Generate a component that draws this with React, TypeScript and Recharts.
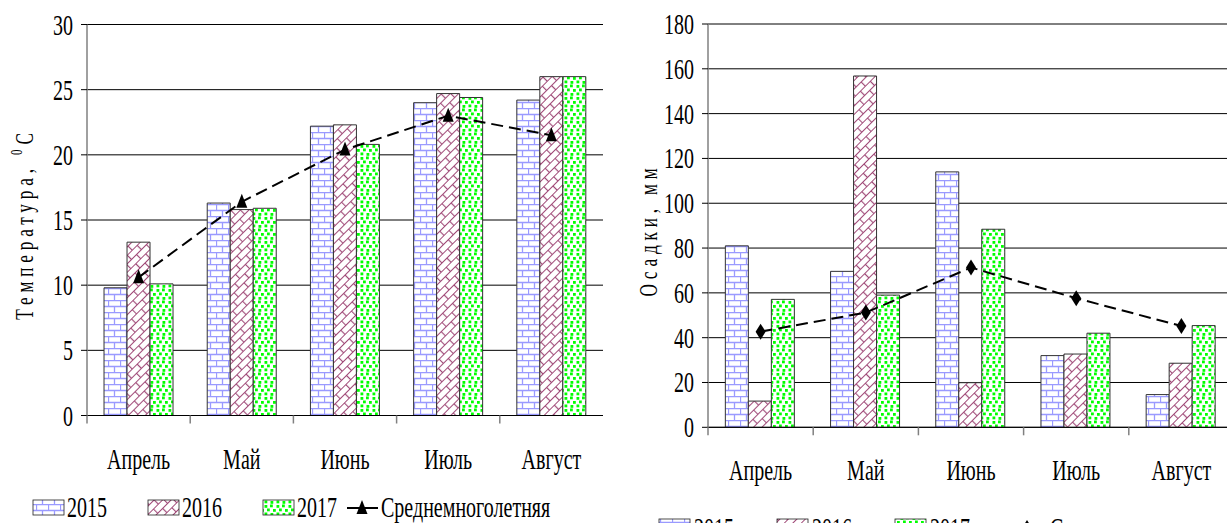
import React from 'react';
import { ComposedChart, Bar, Line, XAxis, YAxis, CartesianGrid } from 'recharts';

const months = ['Апрель', 'Май', 'Июнь', 'Июль', 'Август'];
const years = ['2015', '2016', '2017'];
const avgName = 'Среднемноголетняя';

// температура, °C
const temp2015 = [9.8, 16.3, 22.2, 24.0, 24.2];
const temp2016 = [13.3, 15.8, 22.3, 24.7, 26.0];
const temp2017 = [10.1, 15.9, 20.8, 24.4, 26.0];
const tempAvg = [10.6, 16.4, 20.4, 23.0, 21.5];
const tempTicks = [0, 5, 10, 15, 20, 25, 30];

// осадки, мм
const rain2015 = [81, 69.6, 114, 32, 14.6];
const rain2016 = [11.7, 156.8, 19.9, 32.7, 28.6];
const rain2017 = [57.1, 59, 88.4, 42, 45.4];
const rainAvg = [42.7, 51.2, 71.3, 57.6, 45.2];
const rainTicks = [0, 20, 40, 60, 80, 100, 120, 140, 160, 180];

const FONT = '"Liberation Serif", "Times New Roman", serif';
const fills = ['url(#brick2015)', 'url(#brick2016)', 'url(#dots2017)'];

const build = (a: number[], b: number[], c: number[], avg: number[]) =>
  months.map((m, i) => ({ month: m, y2015: a[i], y2016: b[i], y2017: c[i], avg: avg[i] }));

const tempData = build(temp2015, temp2016, temp2017, tempAvg);
const rainData = build(rain2015, rain2016, rain2017, rainAvg);

// Times, squeezed horizontally like the source picture
const Narrow = ({ x, y, anchor, size = 29, children }: any) => (
  <text
    transform={`translate(${x},${y}) scale(0.69,1)`}
    textAnchor={anchor}
    fontSize={size}
    fontFamily={FONT}
    fill="#000"
  >
    {children}
  </text>
);

const YTick = ({ x, y, payload }: any) => (
  <Narrow x={x} y={y + 10} anchor="end">{payload.value}</Narrow>
);

// category label + tick mark on the left edge of its band (Excel style)
const catTick = (drop: number) => ({ x, y, payload }: any) => {
  const edge = x - (payload.offset || 0);
  return (
    <g>
      <line x1={edge} x2={edge} y1={y} y2={y + 8} stroke="#808080" strokeWidth={1.5} />
      <Narrow x={x} y={y + drop} anchor="middle">{payload.value}</Narrow>
    </g>
  );
};

const Triangle = ({ cx, cy }: any) =>
  cx == null ? null : (
    <path d={`M${cx},${cy - 8}L${cx + 5.5},${cy + 6}L${cx - 5.5},${cy + 6}Z`} fill="#000" />
  );

const Diamond = ({ cx, cy }: any) =>
  cx == null ? null : (
    <path d={`M${cx},${cy - 8}L${cx + 5},${cy}L${cx},${cy + 8}L${cx - 5},${cy}Z`} fill="#000" />
  );

function Panel({ data, max, ticks, width, margin, yWidth, Marker, drop }: any) {
  return (
    <ComposedChart
      width={width}
      height={523}
      data={data}
      margin={margin}
      barCategoryGap="16.5%"
      barGap={0}
    >
      <CartesianGrid vertical={false} stroke="#000" strokeWidth={1} />
      <XAxis
        dataKey="month"
        height={1}
        tickSize={0}
        tickMargin={0}
        axisLine={{ stroke: '#000', strokeWidth: 1 }}
        tickLine={false}
        tick={catTick(drop)}
        interval={0}
      />
      <YAxis
        domain={[0, max]}
        ticks={ticks}
        width={yWidth}
        tickSize={6}
        tickMargin={8}
        tick={<YTick />}
        axisLine={{ stroke: '#808080', strokeWidth: 1.5 }}
        tickLine={{ stroke: '#000' }}
        interval={0}
      />
      {years.map((yr, i) => (
        <Bar
          key={yr}
          dataKey={'y' + yr}
          fill={fills[i]}
          stroke="#333"
          strokeWidth={1}
          isAnimationActive={false}
        />
      ))}
      <Line
        dataKey="avg"
        type="linear"
        stroke="#000"
        strokeWidth={2}
        strokeDasharray="12 6"
        dot={(p: any) => <Marker key={p.index} {...p} />}
        activeDot={false}
        isAnimationActive={false}
      />
    </ComposedChart>
  );
}

const Swatch = ({ x, y, fill }: any) => (
  <rect x={x} y={y} width={31} height={15} fill={fill} stroke="#222" strokeWidth={0.8} />
);

const dotSpots = [
  [0.5, 1], [6, 0.5], [3, 4.5], [9, 5], [0.5, 8.5], [6.5, 9],
];

export default function App() {
  return (
    <div style={{ position: 'absolute', left: 0, top: 0, width: 1227, height: 523, overflow: 'hidden', background: '#fff' }}>
      <div style={{ position: 'absolute', left: 0, top: 0 }}>
        <Panel
          data={tempData}
          max={30}
          ticks={tempTicks}
          width={620}
          yWidth={87}
          margin={{ top: 24.5, right: 17, bottom: 106.5, left: 0 }}
          Marker={Triangle}
          drop={53.5}
        />
      </div>
      <div style={{ position: 'absolute', left: 620, top: 0 }}>
        <Panel
          data={rainData}
          max={180}
          ticks={rainTicks}
          width={640}
          yWidth={88}
          margin={{ top: 24, right: 26, bottom: 94.7, left: 0 }}
          Marker={Diamond}
          drop={53}
        />
      </div>
      <svg width={1227} height={523} style={{ position: 'absolute', left: 0, top: 0, pointerEvents: 'none' }}>
        <defs>
          <pattern id="brick2015" width="12" height="12" patternUnits="userSpaceOnUse">
            <rect width="12" height="12" fill="#fff" />
            <path d="M0,0.5H12M0,6.5H12M0.5,0V6M6.5,6V12" stroke="#9a9aff" strokeWidth="1.3" fill="none" />
          </pattern>
          <pattern id="brick2016" width="14" height="12" patternUnits="userSpaceOnUse" patternTransform="rotate(-45)">
            <rect width="14" height="12" fill="#fff" />
            <path d="M0,0.5H14M0,6.5H14M0.5,0V6M7.5,6V12" stroke="#a04a78" strokeWidth="1.2" fill="none" />
          </pattern>
          <pattern id="dots2017" width="12" height="12" patternUnits="userSpaceOnUse">
            <rect width="12" height="12" fill="#fff" />
            {dotSpots.map(([dx, dy], i) => (
              <rect key={i} x={dx} y={dy} width="2.8" height="2.8" fill="#00ff00" />
            ))}
          </pattern>
        </defs>

        {/* axis titles */}
        <text
          transform="translate(33,224) rotate(-90) scale(0.69,1)"
          textAnchor="middle"
          fontSize={25}
          fontFamily={FONT}
          letterSpacing={7}
        >
          Температура,{' '}
          <tspan fontSize={16} dy={-11}>0</tspan>
          <tspan dy={11}>С</tspan>
        </text>
        <text
          transform="translate(657,230) rotate(-90) scale(0.69,1)"
          textAnchor="middle"
          fontSize={25}
          fontFamily={FONT}
          letterSpacing={7}
        >
          Осадки, мм
        </text>

        {/* left legend */}
        {years.map((yr, i) => (
          <g key={'l' + yr}>
            <Swatch x={33 + i * 115} y={500} fill={fills[i]} />
            <Narrow x={67 + i * 115} y={517} anchor="start">{yr}</Narrow>
          </g>
        ))}
        <line x1={347} x2={378} y1={508} y2={508} stroke="#000" strokeWidth={2} />
        <Triangle cx={362} cy={508} />
        <Narrow x={381} y={517} anchor="start">{avgName}</Narrow>

        {/* right legend, cut by the page edge */}
        {years.map((yr, i) => (
          <g key={'r' + yr}>
            <Swatch x={659 + i * 118} y={519} fill={fills[i]} />
            <Narrow x={694 + i * 118} y={538} anchor="start">{yr}</Narrow>
          </g>
        ))}
        <line x1={1008} x2={1045} y1={528} y2={528} stroke="#000" strokeWidth={2} strokeDasharray="6 5" />
        <Diamond cx={1027} cy={528} />
        <Narrow x={1050} y={538} anchor="start">{avgName}</Narrow>
      </svg>
    </div>
  );
}
